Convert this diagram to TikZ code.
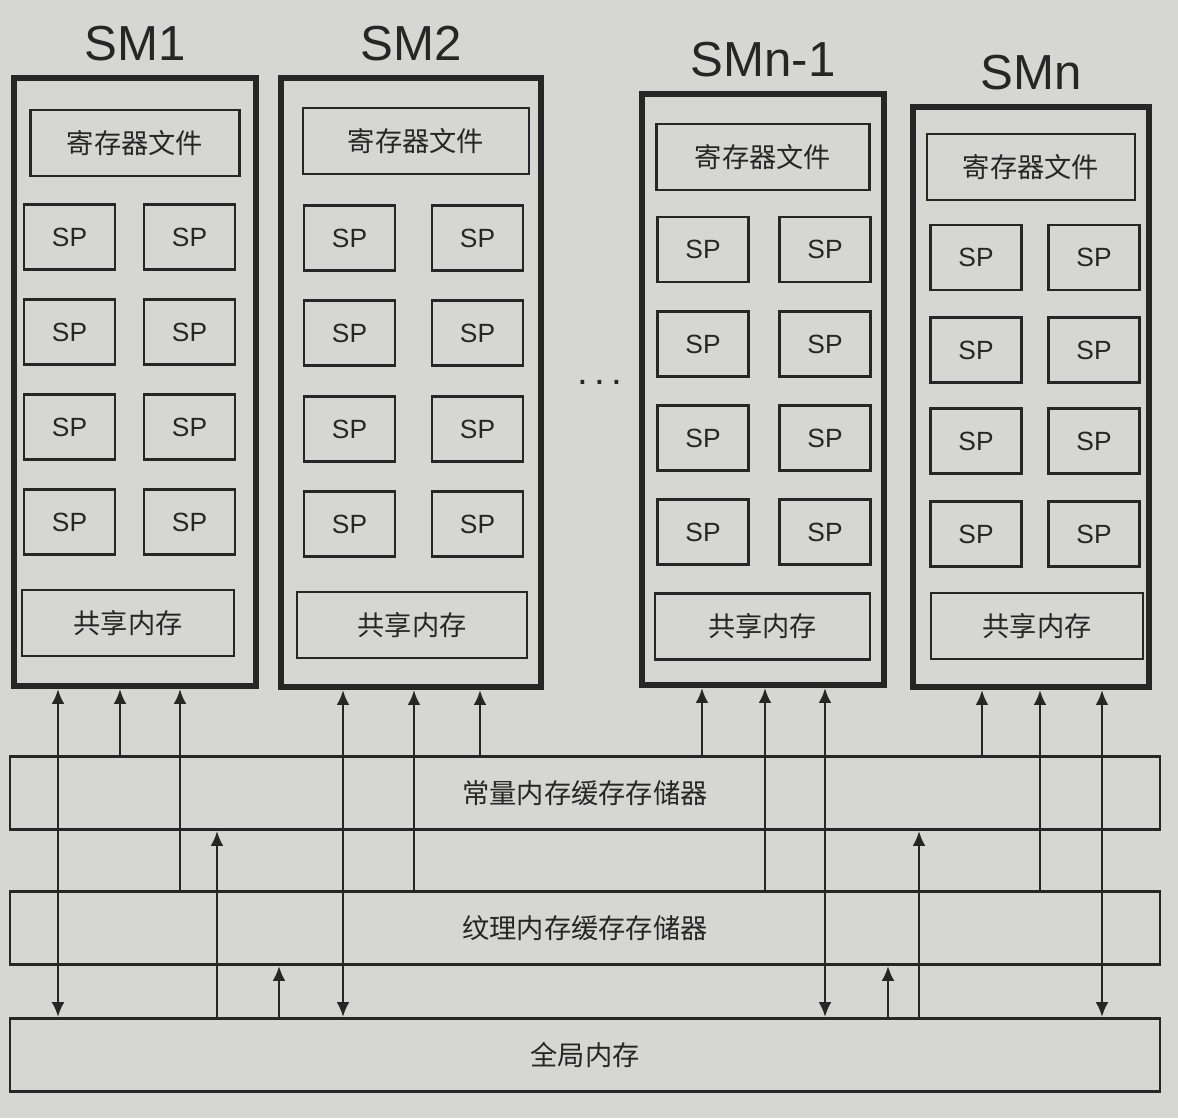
\documentclass[tikz,border=0pt]{standalone}
\usepackage{fontspec}
\setmainfont{Liberation Sans}
\newfontfamily\cjk{Noto Sans CJK SC}
\usetikzlibrary{arrows.meta,positioning}

\definecolor{paper}{RGB}{214,214,211}
\definecolor{ink}{RGB}{38,38,38}

\begin{document}
\begin{tikzpicture}[
  color=ink,
  sm/.style={draw, line width=3.4pt, inner sep=0pt},
  smlbl/.style={inner sep=0pt, font=\fontsize{28}{32}\selectfont},
  unit/.style={draw, line width=1.5pt, minimum height=1.32cm, font=\cjk\fontsize{15.5}{18}\selectfont},
  sp/.style={draw, line width=1.5pt, minimum width=1.82cm, minimum height=1.3cm, font=\fontsize{15}{18}\selectfont},
  bus/.style={draw, line width=1.6pt, minimum width=23.0cm, minimum height=1.46cm, font=\cjk\fontsize{15.5}{18}\selectfont},
  arr/.style={-{Latex[length=3mm,width=2.6mm]}, line width=1.6pt},
  darr/.style={{Latex[length=3mm,width=2.6mm]}-{Latex[length=3mm,width=2.6mm]}, line width=1.6pt},
]
  % page
  \fill[paper] (0,0) rectangle (23.56,22.36);
  \useasboundingbox (0,0) rectangle (23.56,22.36);

  % SM frames
  \node[sm, minimum width=4.84cm, minimum height=12.16cm] (sm1) at (2.70,14.72) {};
  \node[sm, minimum width=5.20cm, minimum height=12.18cm] (sm2) at (8.22,14.71) {};
  \node[sm, minimum width=4.84cm, minimum height=11.82cm] (smn1) at (15.26,14.57) {};
  \node[sm, minimum width=4.72cm, minimum height=11.60cm] (smn) at (20.62,14.42) {};

  \node[smlbl, above=0.28cm of sm1] (lsm1) {SM1};
  \node[smlbl, above=0.28cm of sm2] (lsm2) {SM2};
  \node[smlbl, above=0.28cm of smn1] (lsmn1) {SMn-1};
  \node[smlbl, above=0.28cm of smn] (lsmn) {SMn};

  % register files
  \node[unit, minimum width=4.18cm] (reg1) at (2.70,19.50) {寄存器文件};
  \node[unit, minimum width=4.52cm] (reg2) at (8.32,19.54) {寄存器文件};
  \node[unit, minimum width=4.26cm] (regn1) at (15.26,19.22) {寄存器文件};
  \node[unit, minimum width=4.16cm] (regn) at (20.62,19.02) {寄存器文件};

  % SP cores, SM1
  \node[sp] (a11) at (1.39,17.62) {SP}; \node[sp] (a12) at (3.79,17.62) {SP};
  \node[sp] (a21) at (1.39,15.72) {SP}; \node[sp] (a22) at (3.79,15.72) {SP};
  \node[sp] (a31) at (1.39,13.82) {SP}; \node[sp] (a32) at (3.79,13.82) {SP};
  \node[sp] (a41) at (1.39,11.92) {SP}; \node[sp] (a42) at (3.79,11.92) {SP};

  % SP cores, SM2
  \node[sp] (b11) at (6.99,17.60) {SP}; \node[sp] (b12) at (9.55,17.60) {SP};
  \node[sp] (b21) at (6.99,15.70) {SP}; \node[sp] (b22) at (9.55,15.70) {SP};
  \node[sp] (b31) at (6.99,13.78) {SP}; \node[sp] (b32) at (9.55,13.78) {SP};
  \node[sp] (b41) at (6.99,11.88) {SP}; \node[sp] (b42) at (9.55,11.88) {SP};

  % SP cores, SMn-1
  \node[sp] (c11) at (14.06,17.37) {SP}; \node[sp] (c12) at (16.50,17.37) {SP};
  \node[sp] (c21) at (14.06,15.48) {SP}; \node[sp] (c22) at (16.50,15.48) {SP};
  \node[sp] (c31) at (14.06,13.60) {SP}; \node[sp] (c32) at (16.50,13.60) {SP};
  \node[sp] (c41) at (14.06,11.72) {SP}; \node[sp] (c42) at (16.50,11.72) {SP};

  % SP cores, SMn
  \node[sp] (d11) at (19.52,17.21) {SP}; \node[sp] (d12) at (21.88,17.21) {SP};
  \node[sp] (d21) at (19.52,15.36) {SP}; \node[sp] (d22) at (21.88,15.36) {SP};
  \node[sp] (d31) at (19.52,13.54) {SP}; \node[sp] (d32) at (21.88,13.54) {SP};
  \node[sp] (d41) at (19.52,11.68) {SP}; \node[sp] (d42) at (21.88,11.68) {SP};

  % shared memory
  \node[unit, minimum width=4.24cm] (sh1) at (2.56,9.90) {共享内存};
  \node[unit, minimum width=4.60cm] (sh2) at (8.24,9.86) {共享内存};
  \node[unit, minimum width=4.30cm] (shn1) at (15.25,9.83) {共享内存};
  \node[unit, minimum width=4.24cm] (shn) at (20.74,9.84) {共享内存};

  \node[font=\fontsize{22}{26}\selectfont] (dots) at (12.00,14.72) {.\,.\,.};

  % memory buses
  \node[bus] (const) at (11.70,6.50) {常量内存缓存存储器};
  \node[bus] (tex) at (11.70,3.80) {纹理内存缓存存储器};
  \node[bus] (glob) at (11.70,1.26) {全局内存};

  % SM1 links
  \draw[darr] (1.16,0 |- glob.north) -- (1.16,0 |- sm1.south);
  \draw[arr] (2.40,0 |- const.north) -- (2.40,0 |- sm1.south);
  \draw[arr] (3.60,0 |- tex.north) -- (3.60,0 |- sm1.south);
  \draw[arr] (4.34,0 |- glob.north) -- (4.34,0 |- const.south);
  \draw[arr] (5.58,0 |- glob.north) -- (5.58,0 |- tex.south);

  % SM2 links
  \draw[darr] (6.86,0 |- glob.north) -- (6.86,0 |- sm2.south);
  \draw[arr] (8.28,0 |- tex.north) -- (8.28,0 |- sm2.south);
  \draw[arr] (9.60,0 |- const.north) -- (9.60,0 |- sm2.south);

  % SMn-1 links
  \draw[arr] (14.04,0 |- const.north) -- (14.04,0 |- smn1.south);
  \draw[arr] (15.30,0 |- tex.north) -- (15.30,0 |- smn1.south);
  \draw[darr] (16.50,0 |- glob.north) -- (16.50,0 |- smn1.south);
  \draw[arr] (17.76,0 |- glob.north) -- (17.76,0 |- tex.south);
  \draw[arr] (18.38,0 |- glob.north) -- (18.38,0 |- const.south);

  % SMn links
  \draw[arr] (19.64,0 |- const.north) -- (19.64,0 |- smn.south);
  \draw[arr] (20.80,0 |- tex.north) -- (20.80,0 |- smn.south);
  \draw[darr] (22.04,0 |- glob.north) -- (22.04,0 |- smn.south);
\end{tikzpicture}
\end{document}
